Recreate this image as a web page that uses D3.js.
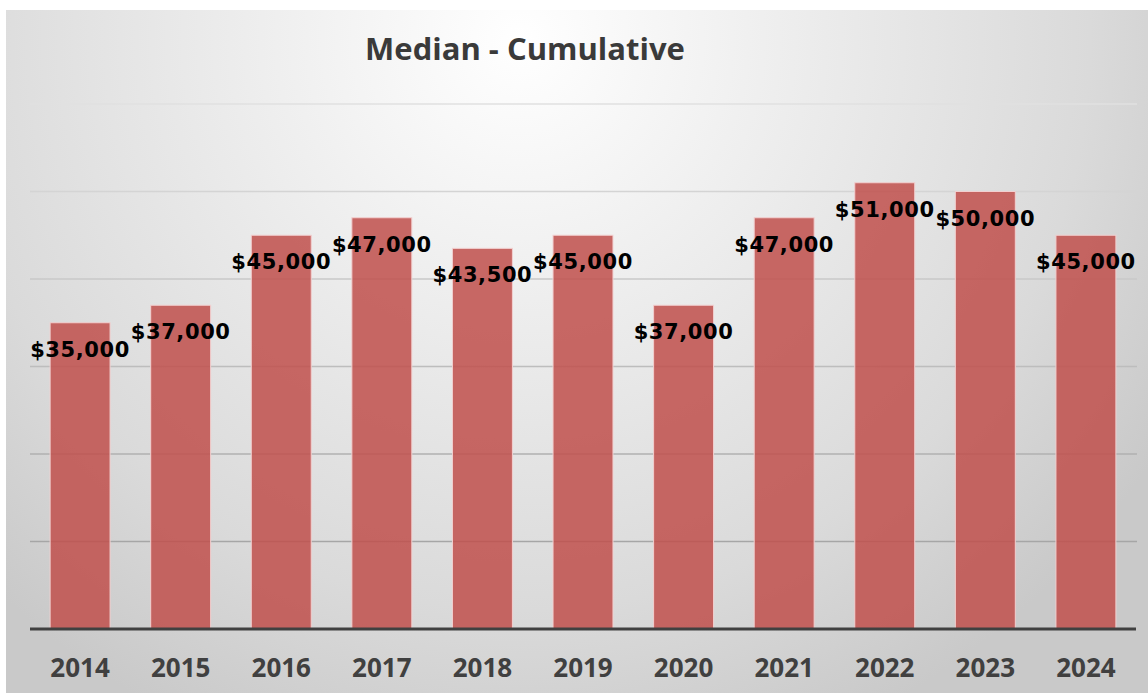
<!DOCTYPE html>
<html>
<head>
<meta charset="utf-8">
<script src="https://cdn.jsdelivr.net/npm/d3@7"></script>
<style>
html,body{margin:0;padding:0;background:#fff;}
svg{display:block;}
</style>
</head>
<body>
<svg id="chart" width="1148" height="693"></svg>
<script>
const years = ["2014","2015","2016","2017","2018","2019","2020","2021","2022","2023","2024"];
const medians = [35000,37000,45000,47000,43500,45000,37000,47000,51000,50000,45000];
const gridTicks = [0,10000,20000,30000,40000,50000,60000];
const title = "Median - Cumulative";

const W = 1148, H = 693;
const svg = d3.select("#chart");
const defs = svg.append("defs");
const rg = defs.append("radialGradient").attr("id","bg")
  .attr("gradientUnits","userSpaceOnUse")
  .attr("cx",520).attr("cy",40).attr("r",760);
[[0,"#ffffff"],[0.3,"#f0f0f0"],[0.75,"#dadada"],[1,"#c9c9c9"]].forEach(s=>
  rg.append("stop").attr("offset",s[0]).attr("stop-color",s[1]));

svg.append("rect").attr("x",6).attr("y",10).attr("width",W-6).attr("height",H-10).attr("fill","url(#bg)");

const x = d3.scaleBand().domain(years).range([30,1136]).paddingInner(0.404).paddingOuter(0.2);
const y = d3.scaleLinear().domain([0,60000]).range([629,104]);
const gcol = d3.scaleLinear().domain([0,60000]).range(["#9a9a9a","#e0e0e0"]);

// gridlines
svg.append("g").selectAll("line").data(gridTicks.slice(1)).join("line")
  .attr("x1",30).attr("x2",1137)
  .attr("y1",d=>y(d)).attr("y2",d=>y(d))
  .attr("stroke",d=>gcol(d)).attr("stroke-width",1.5);

// bars
svg.append("g").selectAll("rect").data(years).join("rect")
  .attr("x",d=>x(d)).attr("width",x.bandwidth())
  .attr("y",(d,i)=>y(medians[i])).attr("height",(d,i)=>y(0)-y(medians[i]))
  .attr("fill","#c0504d").attr("fill-opacity",0.86)
  .attr("stroke","#f2d0d0").attr("stroke-width",1);

// baseline axis
const xAxis = d3.axisBottom(x).tickSize(0).tickPadding(0);
const ax = svg.append("g").attr("transform",`translate(0,${y(0)})`).call(xAxis);
ax.select(".domain").attr("stroke","#404040").attr("stroke-width",3).attr("d","M30,0H1136");
ax.selectAll("text")
  .attr("y",48).attr("dy",0)
  .attr("font-family","'Open Sans', sans-serif").attr("font-weight","bold")
  .attr("font-size",26).attr("fill","#404040");

// value labels
svg.append("g").selectAll("text").data(years).join("text")
  .attr("x",d=>x(d)+x.bandwidth()/2)
  .attr("y",(d,i)=>y(medians[i])+34)
  .attr("text-anchor","middle")
  .attr("font-family","'DejaVu Sans', sans-serif").attr("font-weight","bold")
  .attr("font-size",21).attr("letter-spacing","0.6px").attr("fill","#000")
  .text((d,i)=>"$"+d3.format(",")(medians[i]));

// title
svg.append("text").attr("x",525).attr("y",60).attr("text-anchor","middle")
  .attr("font-family","'Open Sans', sans-serif").attr("font-weight","bold")
  .attr("font-size",31).attr("fill","#3a3a3a").text(title);
</script>
</body>
</html>
